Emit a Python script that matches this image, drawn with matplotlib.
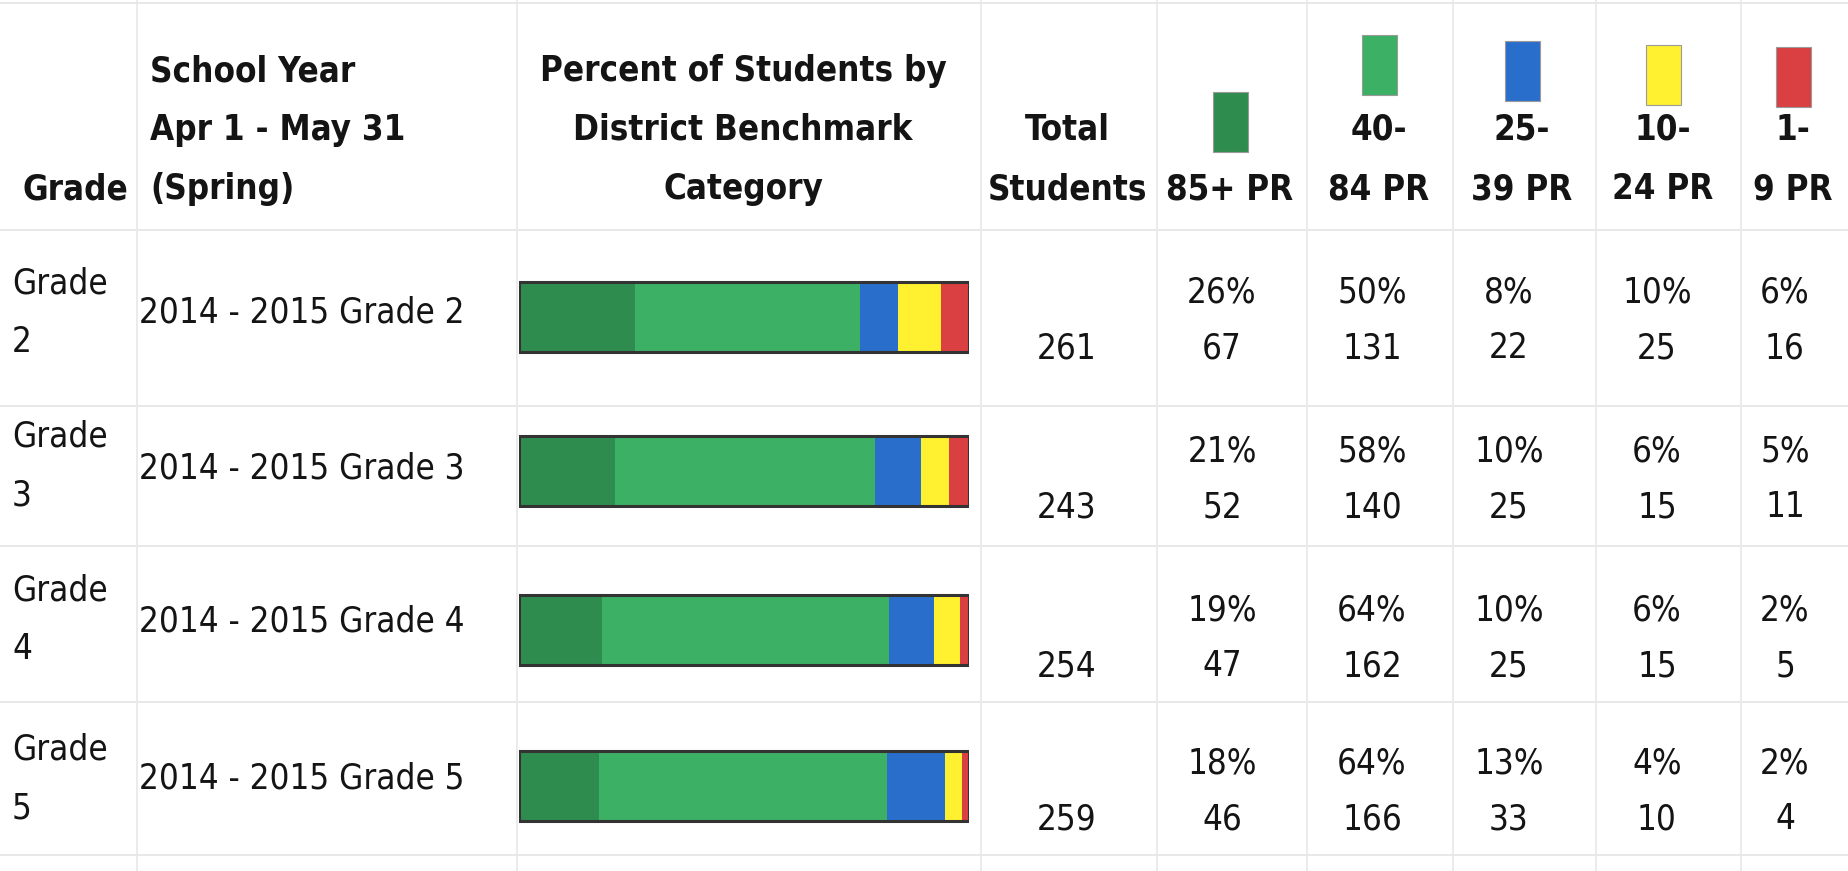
import matplotlib
matplotlib.use("Agg")
import matplotlib.pyplot as plt
import numpy as np

# ---- data ----
grades = ["Grade\n2", "Grade\n3", "Grade\n4", "Grade\n5"]
school_years = ["2014 - 2015 Grade 2", "2014 - 2015 Grade 3",
                "2014 - 2015 Grade 4", "2014 - 2015 Grade 5"]
total_students = [261, 243, 254, 259]
categories = ["85+ PR", "40-\n84 PR", "25-\n39 PR", "10-\n24 PR", "1-\n9 PR"]
cat_colors = ["#2f8c4f", "#3cb064", "#2a6ecb", "#fff030", "#da3f42"]
pct_85 = [26, 21, 19, 18]
pct_40 = [50, 58, 64, 64]
pct_25 = [8, 10, 10, 13]
pct_10 = [10, 6, 6, 4]
pct_1 = [6, 5, 2, 2]
cnt_85 = [67, 52, 47, 46]
cnt_40 = [131, 140, 162, 166]
cnt_25 = [22, 25, 25, 33]
cnt_10 = [25, 15, 15, 10]
cnt_1 = [16, 11, 5, 4]

pcts = np.array([pct_85, pct_40, pct_25, pct_10, pct_1])
counts = np.array([cnt_85, cnt_40, cnt_25, cnt_10, cnt_1])

# ---- layout (pixels of the 1849x871 picture) ----
W, H = 1849, 871
fig = plt.figure(figsize=(W / 100, H / 100), dpi=100)
ax = fig.add_axes([0, 0, 1, 1])
ax.set_xlim(0, W)
ax.set_ylim(H, 0)
ax.axis("off")

txt = "#141414"
fs = 25
hfont = dict(fontsize=fs, fontweight="bold", color=txt, fontstretch="condensed")
bfont = dict(fontsize=fs, color=txt, fontstretch="condensed")
line_gap = 59

# grid lines
for y in [3, 230, 406, 546, 702, 855]:
    ax.axhline(y, color="#e4e4e4", lw=1.2, zorder=0)
for x in [137, 517, 981, 1157, 1307, 1453, 1596, 1741]:
    ax.axvline(x, color="#e8e8e8", lw=1.2, zorder=0)


def lines(x, y_last, s, ha, font):
    parts = s.split("\n")
    for i, p in enumerate(parts):
        y = y_last - (len(parts) - 1 - i) * line_gap
        ax.text(x, y, p, ha=ha, va="center", **font)


# header
lines(22, 189, "Grade", "left", hfont)
lines(150, 189, "School Year\nApr 1 - May 31\n(Spring)", "left", hfont)
lines(743, 189, "Percent of Students by\nDistrict Benchmark\nCategory", "center", hfont)
lines(1067, 189, "Total\nStudents", "center", hfont)

cat_x = [1230, 1379, 1522, 1663, 1793]
swatch_top = [92, 35, 41, 45, 47]
for cx, lab, col, st in zip(cat_x, categories, cat_colors, swatch_top):
    lines(cx, 189, lab, "center", hfont)
    ax.add_patch(plt.Rectangle((cx - 17, st), 35, 60, facecolor=col,
                               edgecolor="#9a9a9a", lw=0.8))

# rows
grade_y = [283, 436, 590, 749]
year_y = [312, 468, 621, 778]
bar_y = [317, 471, 630, 786]
total_y = [348, 507, 666, 819]
data_x = [1222, 1372, 1509, 1657, 1785]

for i in range(len(grades)):
    g1, g2 = grades[i].split("\n")
    ax.text(12, grade_y[i], g1, ha="left", va="center", **bfont)
    ax.text(12, grade_y[i] + line_gap, g2, ha="left", va="center", **bfont)
    ax.text(139, year_y[i], school_years[i], ha="left", va="center", **bfont)
    ax.text(1067, total_y[i], str(total_students[i]), ha="center", va="center", **bfont)
    for j in range(len(categories)):
        ax.text(data_x[j], total_y[i] - 56, f"{pcts[j, i]}%", ha="center", va="center", **bfont)
        ax.text(data_x[j], total_y[i], str(counts[j, i]), ha="center", va="center", **bfont)

# stacked bars in their own axes
bx0, bx1 = 519, 969
bax = fig.add_axes([bx0 / W, 0, (bx1 - bx0) / W, 1])
bax.set_xlim(0, 100)
bax.set_ylim(H, 0)
bax.axis("off")
bax.patch.set_alpha(0)
shares = counts / np.array(total_students) * 100
left = np.zeros(len(grades))
for j in range(len(categories)):
    bax.barh(bar_y, shares[j], left=left, height=70, color=cat_colors[j], lw=0)
    left += shares[j]
bax.barh(bar_y, left, height=70, facecolor="none", edgecolor="#333333", lw=2.2)

fig.savefig("out.png", dpi=100, facecolor="white")
